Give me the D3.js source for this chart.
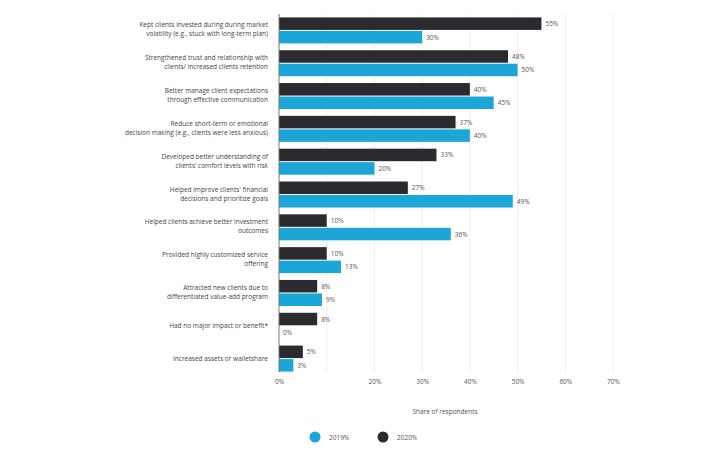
<!DOCTYPE html><html><head><meta charset="utf-8"><script src="https://cdn.jsdelivr.net/npm/d3@7"></script>
<style>body{margin:0;background:#fff}text{font-family:"Open Sans",sans-serif}</style></head><body><svg id="c" width="720" height="456"></svg>
<script>
const categories=[
["Kept clients invested during during market","volatility (e.g., stuck with long-term plan)"],
["Strengthened trust and relationship with","clients/ increased clients retention"],
["Better manage client expectations","through effective communication"],
["Reduce short-term or emotional","decision making (e.g., clients were less anxious)"],
["Developed better understanding of","clients' comfort levels with risk"],
["Helped improve clients' financial","decisions and prioritize goals"],
["Helped clients achieve better investment","outcomes"],
["Provided highly customized service","offering"],
["Attracted new clients due to","differentiated value-add program"],
["Had no major impact or benefit*"],
["Increased assets or walletshare"]];
const values2020=[55,48,40,37,33,27,10,10,8,8,5];
const values2019=[30,50,45,40,20,49,36,13,9,0,3];
const ticks=[0,10,20,30,40,50,60,70];
const tickLabels=["0%","","20%","30%","40%","50%","60%","70%"];
const C19="#1aa6d6",C20="#2b2b2f";
const svg=d3.select("#c");
const x=d3.scaleLinear().domain([0,70]).range([279,613]);
const y=d3.scaleBand().domain(d3.range(categories.length)).range([14,375]).paddingInner(0.1).paddingOuter(0.05);
const g=svg.append("g");
g.selectAll(".grid").data(ticks.slice(1)).join("line").attr("x1",d=>x(d)).attr("x2",d=>x(d)).attr("y1",14).attr("y2",372).attr("stroke","#eee");
const bh=12.5;
categories.forEach((c,i)=>{
 const y0=y(i)+y.bandwidth()/2;
 g.append("rect").attr("x",x(0)).attr("y",y0-bh-0.5).attr("width",x(values2020[i])-x(0)).attr("height",bh).attr("fill",C20);
 g.append("rect").attr("x",x(0)).attr("y",y0+0.5).attr("width",Math.max(0,x(values2019[i])-x(0))).attr("height",bh).attr("fill",C19);
 g.append("text").attr("x",x(values2020[i])+4).attr("y",y0-bh/2+2).attr("font-size",6.5).attr("fill","#555").text(values2020[i]+"%");
 g.append("text").attr("x",x(values2019[i])+4).attr("y",y0+bh/2+3).attr("font-size",6.5).attr("fill","#555").text(values2019[i]+"%");
 const t=g.append("text").attr("text-anchor","end").attr("font-size",6.5).attr("fill","#444");
 const off=c.length===1?[2]:[-3,6];
 c.forEach((l,k)=>t.append("tspan").attr("x",268).attr("y",y0+off[k]).text(l));
});
g.append("line").attr("x1",x(0)).attr("x2",x(0)).attr("y1",14).attr("y2",372).attr("stroke","#777");
const ax=svg.append("g").attr("transform","translate(0,374)").call(d3.axisBottom(x).tickValues(ticks).tickFormat((d,i)=>tickLabels[i]).tickSize(0).tickPadding(5));
ax.select(".domain").remove();ax.selectAll("text").attr("font-size",6.5).attr("fill","#555").style("font-family","Open Sans");
svg.append("text").attr("x",445).attr("y",414).attr("text-anchor","middle").attr("font-size",6.5).attr("fill","#555").text("Share of respondents");
[[C19,"2019%",315],[C20,"2020%",383]].forEach(([c,t,cx])=>{svg.append("circle").attr("cx",cx).attr("cy",437).attr("r",5.5).attr("fill",c);svg.append("text").attr("x",cx+14).attr("y",439.5).attr("font-size",6.5).attr("fill","#555").text(t);});
</script></body></html>
